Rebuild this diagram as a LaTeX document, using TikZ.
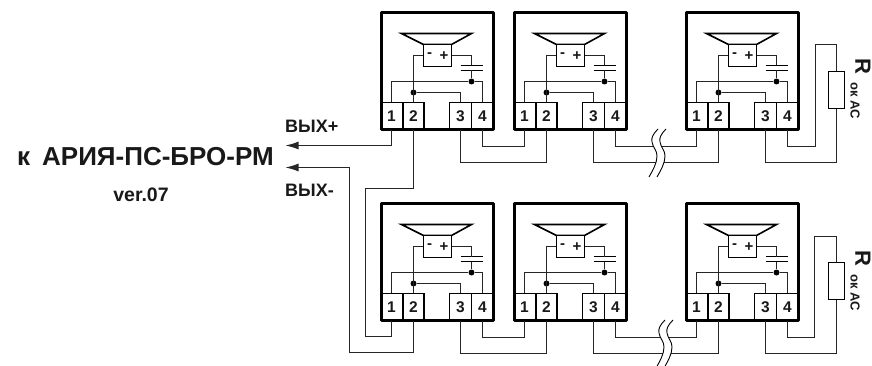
\documentclass[tikz,border=0pt]{standalone}
\usepackage{fontspec}
\setmainfont{Liberation Sans}
\usetikzlibrary{arrows.meta}
\tikzset{
  thinw/.style={line width=1.1pt,draw=black!85},
  frm/.style={line width=3.4pt,draw=black,line join=round},
  term/.style={draw=black,line width=1.6pt,fill=white,inner sep=0pt,minimum height=27pt,font=\fontsize{15.5}{15.5}\bfseries,text=black!90},
  dotj/.style={circle,fill=black,inner sep=0pt,minimum size=6pt},
  lbl/.style={font=\bfseries,text=black!90,inner sep=0pt},
  outarrow/.style={thinw,{Latex[length=13pt,width=8pt]}-},
  resist/.style={draw=black,line width=1.1pt,fill=white,minimum width=16pt,minimum height=37pt,inner sep=0pt},
}
\newcommand{\spkunit}[3]{%
  \begin{scope}[shift={(#2,#3)}]
    \node[term,minimum width=22pt] (#1-1) at (10,103.5) {1};
    \node[term,minimum width=21pt] (#1-2) at (32,103.5) {2};
    \node[term,minimum width=22pt] (#1-3) at (79,103.5) {3};
    \node[term,minimum width=22pt] (#1-4) at (101,103.5) {4};
    \draw[frm] (0,0) rectangle (112,117);
    \draw[line width=1.6pt,draw=black,fill=white,line join=miter] (20,21) -- (90,21) -- (70,32) -- (42,32) -- cycle;
    \node[draw=black,line width=1.6pt,fill=white,minimum width=28pt,minimum height=22pt,inner sep=0pt] (#1-s) at (56,43) {};
    \node[lbl,font=\fontsize{15}{15}\bfseries] (#1-m) at (48,42.5) {-};
    \node[lbl,font=\fontsize{15}{15}\bfseries] (#1-p) at (62.5,44) {+};
    \node[dotj] (#1-d1) at (90,69) {};
    \node[dotj] (#1-d2) at (32,80) {};
    \draw[line width=1.4pt] (79,53) -- (101,53) (79,58) -- (101,58);
    \draw[thinw] (#1-s.east|-0,43) -| (90,53);
    \draw[thinw] (90,58) -- (#1-d1);
    \draw[thinw] (#1-s.west|-0,43) -| (#1-2.north);
    \draw[thinw] (#1-d2) -| (#1-3.north);
    \draw[thinw] (#1-1.north) |- (#1-d1);
    \draw[thinw] (#1-4.north) |- (#1-d1);
  \end{scope}
}
\newcommand{\brk}[2]{%
  \begin{scope}[shift={(#1,#2)}]
    \fill[white] (9,0) .. controls (4,5) and (2,9) .. (3,13) .. controls (4,19) and (8,21) .. (8,27) .. controls (8,34) and (4,41) .. (0,48)
      -- (8,48) .. controls (12,41) and (16,34) .. (16,27) .. controls (16,21) and (12,19) .. (11,13) .. controls (10,9) and (12,5) .. (17,0) -- cycle;
    \draw[line width=.9pt] (9,0) .. controls (4,5) and (2,9) .. (3,13) .. controls (4,19) and (8,21) .. (8,27) .. controls (8,34) and (4,41) .. (0,48);
    \draw[line width=.9pt] (17,0) .. controls (12,5) and (10,9) .. (11,13) .. controls (12,19) and (16,21) .. (16,27) .. controls (16,34) and (12,41) .. (8,48);
  \end{scope}
}
\begin{document}
\begin{tikzpicture}[x=1pt,y=-1pt]
\useasboundingbox (0,0) rectangle (872,366);
\fill[white] (0,0) rectangle (872,366);
% units
\spkunit{A}{381.5}{12.5}
\spkunit{B}{514.5}{12.5}
\spkunit{C}{686.5}{12.5}
\spkunit{D}{381.5}{203.5}
\spkunit{E}{514.5}{203.5}
\spkunit{F}{686.5}{203.5}
% top row wires
\draw[thinw] (A-4.south) -- ++(0,16) -| (B-1.south);
\draw[thinw] (A-3.south) -- ++(0,32) -| (B-2.south);
\draw[thinw] (B-4.south) -- ++(0,16) -| (C-1.south);
\draw[thinw] (B-3.south) -- ++(0,32) -| (C-2.south);
% bottom row wires
\draw[thinw] (D-4.south) -- ++(0,16) -| (E-1.south);
\draw[thinw] (D-3.south) -- ++(0,32) -| (E-2.south);
\draw[thinw] (E-4.south) -- ++(0,16) -| (F-1.south);
\draw[thinw] (E-3.south) -- ++(0,32) -| (F-2.south);
% terminating resistors
\node[resist] (R1) at (836.5,90) {};
\node[resist] (R2) at (836.5,281) {};
\coordinate (r1a) at (815.5,44.5);
\coordinate (r2a) at (814.5,236.5);
\draw[thinw] (C-4.south) -- ++(0,16) -| (r1a) -| (R1.north);
\draw[thinw] (C-3.south) -- ++(0,32) -| (R1.south);
\draw[thinw] (F-4.south) -- ++(0,16) -| (r2a) -| (R2.north);
\draw[thinw] (F-3.south) -- ++(0,32) -| (R2.south);
\node[lbl,rotate=-90,font=\fontsize{22}{22}\bfseries] (Rt1) at (863,66) {R};
\node[lbl,rotate=-90,font=\fontsize{13}{13}\bfseries] (Rs1) at (855,101) {ок АС};
\node[lbl,rotate=-90,font=\fontsize{22}{22}\bfseries] (Rt2) at (863,258) {R};
\node[lbl,rotate=-90,font=\fontsize{13}{13}\bfseries] (Rs2) at (855,293) {ок АС};
% outputs
\node[lbl,font=\fontsize{26}{26}\bfseries,anchor=west] (T) at (17,157) {к\hspace{12pt}АРИЯ-ПС-БРО-РМ};
\node[lbl,font=\fontsize{19.5}{19.5}\bfseries] (V) at (141,195) {ver.07};
\node[lbl,font=\fontsize{18}{18}\bfseries,anchor=west] (Vp) at (285,126.5) {ВЫХ+};
\node[lbl,font=\fontsize{18}{18}\bfseries,anchor=west] (Vm) at (285,190) {ВЫХ-};
\coordinate (ap) at (285.5,145.5);
\coordinate (am) at (285.5,167.5);
\coordinate (j1) at (365.5,188.5);
\coordinate (j2) at (349.5,352.5);
\coordinate (j3) at (365.5,336.5);
\draw[outarrow] (ap) -| (A-1.south);
\draw[outarrow] (am) -| (j2) -| (D-2.south);
\draw[thinw] (A-2.south) |- (j1) |- (j3) -| (D-1.south);
% breaks
\brk{649}{129}
\brk{656}{320}
\end{tikzpicture}
\end{document}
